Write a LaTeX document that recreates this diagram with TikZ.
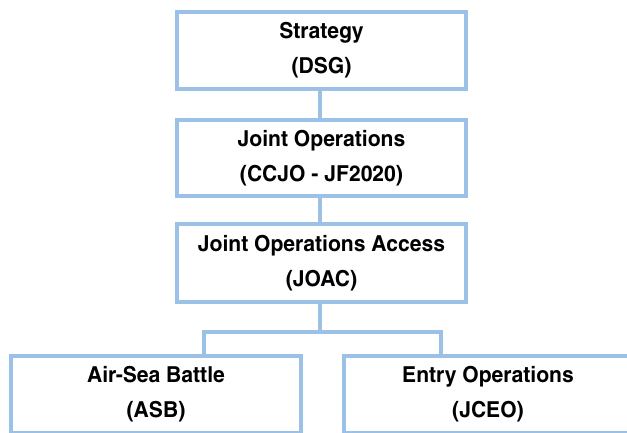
\documentclass[tikz,border=0pt]{standalone}
\usepackage{fontspec}
\setmainfont{texgyreheroscn-bold.otf}[FakeStretch=1.17]
\definecolor{boxblue}{RGB}{155,194,230}
\begin{document}
\begin{tikzpicture}[x=1pt,y=-1pt,
  box/.style={draw=boxblue, line width=4pt, rectangle, align=center,
    inner sep=0pt, font=\fontsize{22}{35}\selectfont},
  link/.style={draw=boxblue, line width=4pt}]
\useasboundingbox (0,0) rectangle (627,432);
\clip (0,0) rectangle (627,432);
\node[box, minimum width=289pt, minimum height=77pt] (s) at (321.5,50.5) {Strategy\\(DSG)};
\node[box, minimum width=289pt, minimum height=76pt] (j) at (321.5,158) {Joint Operations\\(CCJO - JF2020)};
\node[box, minimum width=289pt, minimum height=78pt] (a) at (321.5,263) {Joint Operations Access\\(JOAC)};
\node[box, minimum width=290pt, minimum height=77pt] (l) at (156,394.5) {Air-Sea Battle\\(ASB)};
\node[box, minimum width=288pt, minimum height=77pt] (r) at (488,394.5) {Entry Operations\\(JCEO)};
\coordinate (m) at (320,332);
\coordinate (bl) at (204,332);
\coordinate (br) at (441,332);
\draw[link] (320,0 |- s.south) -- (320,0 |- j.north);
\draw[link] (320,0 |- j.south) -- (320,0 |- a.north);
\draw[link] (320,0 |- a.south) -- (m);
\draw[link, line cap=rect] (bl) -- (br);
\draw[link] (bl) -- (bl |- l.north);
\draw[link] (br) -- (br |- r.north);
\end{tikzpicture}
\end{document}
